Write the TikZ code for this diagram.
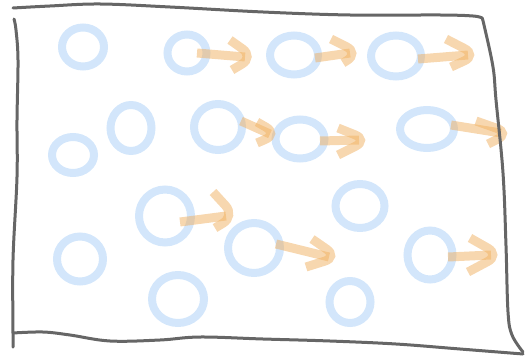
\documentclass[tikz,border=0pt]{standalone}
\usepackage{tikz}
\usetikzlibrary{shapes.geometric,positioning}

\definecolor{dotblue}{HTML}{D3E6FB}
\definecolor{arroworange}{HTML}{F0B060}
\definecolor{framegray}{HTML}{666666}

\begin{document}
\begin{tikzpicture}[x=1pt,y=-1pt]
            \useasboundingbox (0,0) rectangle (526,358);
            \begin{scope}[dot/.style={ellipse, draw=dotblue, line width=8pt, inner sep=0pt}]
                \node(d1) at (83,47) [dot, minimum width=42pt, minimum height=39pt]{};
                \node(d2) at (187,53) [dot, minimum width=39pt, minimum height=37pt]{};
                \node(d3) at (294,55) [dot, minimum width=48pt, minimum height=39pt]{};
                \node(d4) at (396,56) [dot, minimum width=50pt, minimum height=41pt]{};
                %%%
                \node(d5) at (73,155) [dot, minimum width=42pt, minimum height=36pt]{};
                \node(d6) at (131,128) [dot, minimum width=41pt, minimum height=46pt]{};
                \node(d7) at (218,127) [dot, minimum width=48pt, minimum height=46pt]{};
                \node(d8) at (300,139) [dot, minimum width=49pt, minimum height=39pt]{};
                \node(d9) at (427,129) [dot, minimum width=54pt, minimum height=38pt]{};
                %%%
                \node(d10) at (80,259) [dot, minimum width=46pt, minimum height=45pt]{};
                \node(d11) at (165,216) [dot, minimum width=52pt, minimum height=53pt]{};
                \node(d12) at (178,299) [dot, minimum width=52pt, minimum height=48pt]{};
                \node(d13) at (254,248) [dot, minimum width=52pt, minimum height=50pt]{};
                \node(d14) at (360,206) [dot, minimum width=49pt, minimum height=44pt]{};
                \node(d15) at (430,255) [dot, minimum width=45pt, minimum height=49pt]{};
                \node(d16) at (350,302) [dot, minimum width=41pt, minimum height=42pt]{};
            \end{scope}
            %%%
            \coordinate (t2) at (245,57);
            \coordinate (t3) at (350,53);
            \coordinate (t4) at (468,55);
            \coordinate (t7) at (270,134);
            \coordinate (t8) at (359,140);
            \coordinate (t9) at (501,133);
            \coordinate (t11) at (226,216);
            \coordinate (t13) at (329,257);
            \coordinate (t15) at (491,255);
            \begin{scope}[move/.style={draw=arroworange, line width=9pt, opacity=0.5, rounded corners=14pt}]
                \draw[move] ([xshift=10pt]d2.center) -- (t2);
                \draw[move] (230,40) -- ([xshift=9pt]t2) -- (232,70);
                \draw[move] ([xshift=21pt,yshift=-3pt]d3.center) -- (t3);
                \draw[move] (331,39) -- ([xshift=9pt]t3) -- (343,63);
                \draw[move] ([xshift=22pt,yshift=-3pt]d4.center) -- (t4);
                \draw[move] (446,39) -- ([xshift=9pt]t4) -- (451,67);
                \draw[move] ([xshift=23pt,yshift=6pt]d7.center) -- (t7);
                \draw[move] (257,122) -- ([xshift=8pt]t7) -- (257,143);
                \draw[move] ([xshift=20pt,yshift=-2pt]d8.center) -- (t8);
                \draw[move] (338,128) -- ([xshift=9pt]t8) -- (338,155);
                \draw[move] ([xshift=24pt,yshift=4pt]d9.center) -- (t9);
                \draw[move] (476,121) -- ([xshift=9pt]t9) -- (488,144);
                \draw[move] ([xshift=15pt,yshift=-6pt]d11.center) -- (t11);
                \draw[move] (213,192) -- ([xshift=9pt]t11) -- (215,228);
                \draw[move] ([xshift=22pt,yshift=4pt]d13.center) -- (t13);
                \draw[move] (312,239) -- ([xshift=9pt]t13) -- (306,267);
                \draw[move] ([xshift=18pt,yshift=-2pt]d15.center) -- (t15);
                \draw[move] (470,238) -- ([xshift=9pt]t15) -- (468,272);
            \end{scope}
            %
            \begin{scope}[draw=framegray, line width=3pt, line cap=round, line join=round]
                \draw plot[smooth, tension=0.6] coordinates {(13,8) (50,6) (100,4) (170,7) (263,12) (350,15) (440,15) (473,16) (482,18)};
                \draw plot[smooth, tension=0.6] coordinates {(482,18) (484,25) (493,67) (496,100) (503,173) (506,246) (508,312) (512,335) (523,352)};
                \draw plot[smooth, tension=0.6] coordinates {(14,19) (16,30) (18,60) (17,120) (17,177) (13,260) (13,333) (13,347)};
                \draw plot[smooth, tension=0.6] coordinates {(13,333) (43,332) (70,335) (110,341) (160,340) (200,337) (263,339) (330,341) (396,344) (460,349) (523,354)};
            \end{scope}
        \end{tikzpicture}
\end{document}
